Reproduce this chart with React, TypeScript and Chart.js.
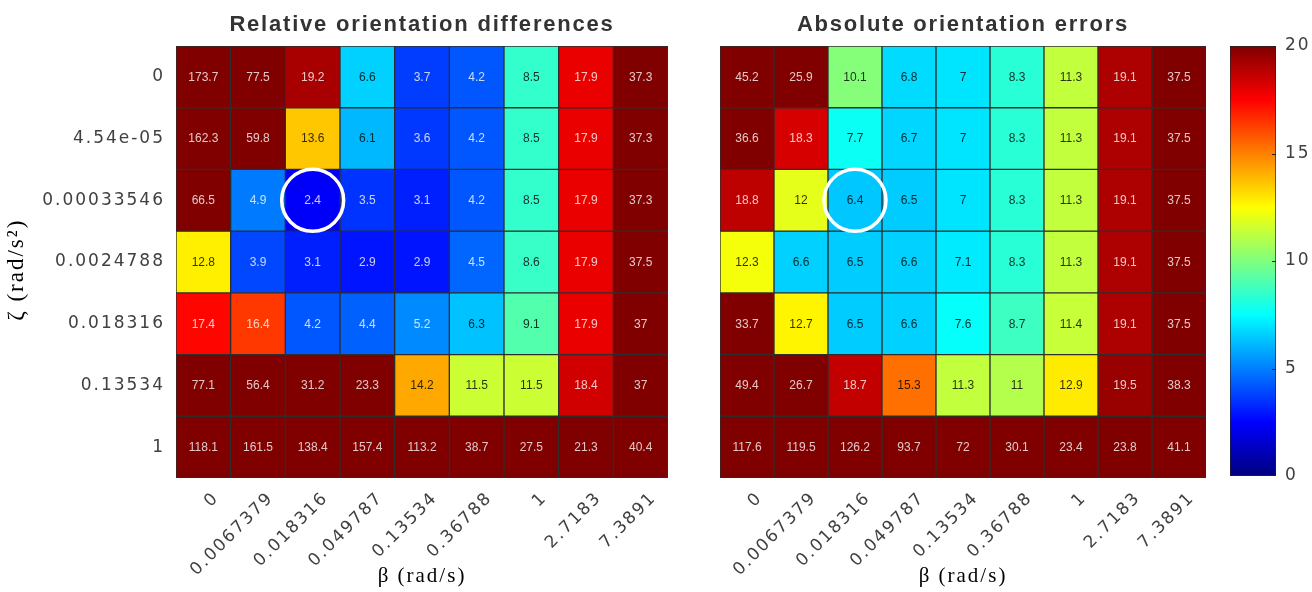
import React, { useEffect, useRef } from 'react';
import { Chart, registerables } from 'chart.js';

Chart.register(...registerables);

// ---- data ----
const betaLabels = ['0', '0.0067379', '0.018316', '0.049787', '0.13534', '0.36788', '1', '2.7183', '7.3891'];
const zetaLabels = ['0', '4.54e-05', '0.00033546', '0.0024788', '0.018316', '0.13534', '1'];

const relRow0 = [173.7, 77.5, 19.2, 6.6, 3.7, 4.2, 8.5, 17.9, 37.3];
const relRow1 = [162.3, 59.8, 13.6, 6.1, 3.6, 4.2, 8.5, 17.9, 37.3];
const relRow2 = [66.5, 4.9, 2.4, 3.5, 3.1, 4.2, 8.5, 17.9, 37.3];
const relRow3 = [12.8, 3.9, 3.1, 2.9, 2.9, 4.5, 8.6, 17.9, 37.5];
const relRow4 = [17.4, 16.4, 4.2, 4.4, 5.2, 6.3, 9.1, 17.9, 37];
const relRow5 = [77.1, 56.4, 31.2, 23.3, 14.2, 11.5, 11.5, 18.4, 37];
const relRow6 = [118.1, 161.5, 138.4, 157.4, 113.2, 38.7, 27.5, 21.3, 40.4];

const absRow0 = [45.2, 25.9, 10.1, 6.8, 7, 8.3, 11.3, 19.1, 37.5];
const absRow1 = [36.6, 18.3, 7.7, 6.7, 7, 8.3, 11.3, 19.1, 37.5];
const absRow2 = [18.8, 12, 6.4, 6.5, 7, 8.3, 11.3, 19.1, 37.5];
const absRow3 = [12.3, 6.6, 6.5, 6.6, 7.1, 8.3, 11.3, 19.1, 37.5];
const absRow4 = [33.7, 12.7, 6.5, 6.6, 7.6, 8.7, 11.4, 19.1, 37.5];
const absRow5 = [49.4, 26.7, 18.7, 15.3, 11.3, 11, 12.9, 19.5, 38.3];
const absRow6 = [117.6, 119.5, 126.2, 93.7, 72, 30.1, 23.4, 23.8, 41.1];

const relRows = [relRow0, relRow1, relRow2, relRow3, relRow4, relRow5, relRow6];
const absRows = [absRow0, absRow1, absRow2, absRow3, absRow4, absRow5, absRow6];

const colorbarTicks = [0, 5, 10, 15, 20];
const colorMax = 20;
const bestCol = 2;
const bestRow = 2;

const relTitle = 'Relative orientation differences';
const absTitle = 'Absolute orientation errors';
const xTitle = 'β (rad/s)';
const yTitle = 'ζ (rad/s²)  ';

// ---- styling helpers ----
const TICK_FONT = { family: '"DejaVu Sans", "Liberation Sans", sans-serif', size: 17 };
const SERIF = '"Liberation Serif", "Times New Roman", serif';
const TICK_COLOR = '#404040';
const GRID_LINE = '#2e2e2e';

function jet(v: number): [number, number, number] {
  const t = Math.max(0, Math.min(1, v / colorMax));
  const c = (k: number) => Math.round(255 * Math.max(0, Math.min(1, 1.5 - Math.abs(4 * t - k))));
  return [c(3), c(2), c(1)];
}
function rgb(c: [number, number, number]) {
  return `rgb(${c[0]},${c[1]},${c[2]})`;
}
function textColor(v: number) {
  const [r, g, b] = jet(v);
  const l = 0.299 * r + 0.587 * g + 0.114 * b;
  return l > 128 ? 'rgba(0,0,0,0.8)' : 'rgba(255,255,255,0.78)';
}

const spacingPlugin = {
  id: 'spacing',
  beforeDraw(chart: any) {
    chart.ctx.letterSpacing = '2px';
  },
};

function makeCellPlugin(title: string) {
  return {
    id: 'cells',
    afterDatasetsDraw(chart: any) {
      const ctx = chart.ctx;
      ctx.save();
      ctx.letterSpacing = '0px';
      ctx.font = '12px "Liberation Sans", Arial, sans-serif';
      ctx.textAlign = 'center';
      ctx.textBaseline = 'middle';
      chart.data.datasets.forEach((ds: any, i: number) => {
        const meta = chart.getDatasetMeta(i);
        meta.data.forEach((el: any, j: number) => {
          const v = ds.cellValues[j];
          const p = el.getProps(['x', 'y', 'base'], true);
          ctx.fillStyle = textColor(v);
          ctx.fillText(String(v), p.x, (p.y + p.base) / 2 + 0.5);
        });
      });
      const xs = chart.scales.x;
      const ys = chart.scales.y;
      const cx = xs.getPixelForValue(bestCol);
      const cy = ys.getPixelForValue(bestRow + 0.5);
      ctx.beginPath();
      ctx.arc(cx, cy, 31, 0, Math.PI * 2);
      ctx.strokeStyle = '#ffffff';
      ctx.lineWidth = 3.5;
      ctx.stroke();

      const a = chart.chartArea;
      ctx.font = 'bold 22px "Liberation Sans", Arial, sans-serif';
      ctx.letterSpacing = '1.8px';
      ctx.fillStyle = '#333333';
      ctx.textBaseline = 'alphabetic';
      ctx.fillText(title, (a.left + a.right) / 2, a.top - 15);
      ctx.restore();
    },
  };
}

function heatmapConfig(rows: number[][], title: string, showY: boolean, padLeft: number, padRight: number): any {
  return {
    type: 'bar',
    data: {
      labels: betaLabels,
      datasets: rows.map((row, r) => ({
        label: zetaLabels[r],
        data: row.map(() => 1),
        cellValues: row,
        backgroundColor: row.map((v) => rgb(jet(v))),
        borderColor: GRID_LINE,
        borderWidth: 1,
        borderSkipped: false,
        barPercentage: 1,
        categoryPercentage: 1,
      })),
    },
    options: {
      responsive: false,
      animation: false,
      events: [],
      layout: { autoPadding: false, padding: { top: 46, left: padLeft, right: padRight, bottom: 0 } },
      plugins: { legend: { display: false }, tooltip: { enabled: false }, title: { display: false } },
      scales: {
        x: {
          type: 'category',
          stacked: true,
          offset: true,
          grid: { display: false, drawTicks: false },
          border: { display: false },
          ticks: {
            autoSkip: false,
            maxRotation: 45,
            minRotation: 45,
            font: TICK_FONT,
            color: TICK_COLOR,
            padding: 10,
            labelOffset: 13,
          },
          afterFit: (s: any) => {
            s.height = 114;
          },
          title: {
            display: true,
            text: xTitle,
            font: { family: SERIF, size: 21, lineHeight: 1.2 },
            color: '#000',
            padding: { top: 0, bottom: 3 },
          },
        },
        y: {
          type: 'linear',
          display: showY,
          stacked: true,
          reverse: true,
          min: 0,
          max: zetaLabels.length,
          grid: { display: false, drawTicks: false },
          border: { display: false },
          afterBuildTicks: (s: any) => {
            s.ticks = zetaLabels.map((_, i) => ({ value: i + 0.5 }));
          },
          ticks: {
            callback: (v: any) => zetaLabels[Math.floor(Number(v))],
            font: TICK_FONT,
            color: TICK_COLOR,
            padding: 11,
          },
          afterFit: (s: any) => {
            s.width = showY ? 176 : 0;
          },
          title: {
            display: true,
            text: yTitle,
            font: { family: SERIF, size: 23, lineHeight: 1.2 },
            color: '#000',
            padding: { top: 3, bottom: 0 },
          },
        },
      },
    },
    plugins: [spacingPlugin, makeCellPlugin(title)],
  };
}

const colorbarTickPlugin = {
  id: 'cbticks',
  afterDatasetsDraw(chart: any) {
    const ctx = chart.ctx;
    const ys = chart.scales.y;
    const a = chart.chartArea;
    ctx.save();
    ctx.strokeStyle = '#222';
    ctx.lineWidth = 1;
    colorbarTicks.slice(1, -1).forEach((v) => {
      const y = Math.round(ys.getPixelForValue(v)) + 0.5;
      ctx.beginPath();
      ctx.moveTo(a.right - 4, y);
      ctx.lineTo(a.right, y);
      ctx.stroke();
    });
    ctx.restore();
  },
};

function colorbarConfig(): any {
  return {
    type: 'bar',
    data: {
      labels: ['colour scale'],
      datasets: [
        {
          data: [[0, colorMax]],
          backgroundColor: (c: any) => {
            const chart = c.chart;
            if (!chart.chartArea) return '#800000';
            const ys = chart.scales.y;
            const g = chart.ctx.createLinearGradient(0, ys.getPixelForValue(0), 0, ys.getPixelForValue(colorMax));
            const n = 64;
            for (let k = 0; k <= n; k++) {
              g.addColorStop(k / n, rgb(jet((k / n) * colorMax)));
            }
            return g;
          },
          borderColor: '#222',
          borderWidth: 1,
          borderSkipped: false,
          barPercentage: 1,
          categoryPercentage: 1,
        },
      ],
    },
    options: {
      responsive: false,
      animation: false,
      events: [],
      layout: { autoPadding: false, padding: { top: 46, bottom: 116, left: 20, right: 0 } },
      plugins: { legend: { display: false }, tooltip: { enabled: false }, title: { display: false } },
      scales: {
        x: { display: false },
        y: {
          position: 'right',
          min: 0,
          max: colorMax,
          grid: { display: false, drawTicks: false },
          border: { display: false },
          afterBuildTicks: (s: any) => {
            s.ticks = colorbarTicks.map((v) => ({ value: v }));
          },
          ticks: { font: TICK_FONT, color: TICK_COLOR, padding: 9 },
          afterFit: (s: any) => {
            s.width = 36;
          },
        },
      },
    },
    plugins: [spacingPlugin, colorbarTickPlugin],
  };
}

export default function App() {
  const leftRef = useRef<HTMLCanvasElement>(null);
  const rightRef = useRef<HTMLCanvasElement>(null);
  const barRef = useRef<HTMLCanvasElement>(null);

  useEffect(() => {
    const charts = [
      new Chart(leftRef.current as HTMLCanvasElement, heatmapConfig(relRows, relTitle, true, 0, 22)),
      new Chart(rightRef.current as HTMLCanvasElement, heatmapConfig(absRows, absTitle, false, 20, 4)),
      new Chart(barRef.current as HTMLCanvasElement, colorbarConfig()),
    ];
    return () => charts.forEach((c) => c.destroy());
  }, []);

  return (
    <div style={{ position: 'absolute', left: 0, top: 0, width: 1312, height: 592, background: '#fff', overflow: 'hidden' }}>
      <canvas ref={leftRef} width={690} height={592} style={{ position: 'absolute', left: 0, top: 0 }} />
      <canvas ref={rightRef} width={510} height={592} style={{ position: 'absolute', left: 700, top: 0 }} />
      <canvas ref={barRef} width={102} height={592} style={{ position: 'absolute', left: 1210, top: 0 }} />
    </div>
  );
}
